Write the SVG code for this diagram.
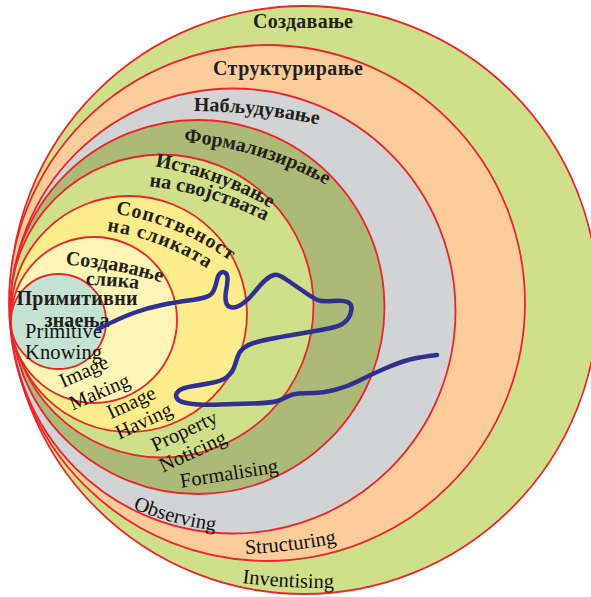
<svg xmlns="http://www.w3.org/2000/svg" width="591" height="597" viewBox="0 0 591 597">
<style>
.ring{stroke:#e8262c;stroke-width:1.8}
.cy{font-family:"Liberation Serif","DejaVu Serif",serif;font-weight:bold;font-size:20px;fill:#231f20}
.en{font-family:"Liberation Serif","DejaVu Serif",serif;font-size:20.5px;fill:#111}
.flow{fill:none;stroke:#2e3192;stroke-width:4.5;stroke-linecap:round;stroke-linejoin:round}
</style>
<defs>
<path id="p_nab" d="M192,111 A600,600 0 0 1 320,125"/>
<path id="p_form" d="M182,142 A350,350 0 0 1 328,186"/>
<path id="p_ist1" d="M153,166 A350,350 0 0 1 272,209"/>
<path id="p_ist2" d="M147,186 A340,340 0 0 1 267,222"/>
<path id="p_sop1" d="M116,214 A260,260 0 0 1 230,261"/>
<path id="p_sop2" d="M107,231 A250,250 0 0 1 208,269"/>
<path id="p_sozd1" d="M67,265 A400,400 0 0 1 160,282"/>
<path id="p_sozd2" d="M86,285 A400,400 0 0 1 138,289"/>
<path id="p_obs" d="M131,508 A350,350 0 0 0 217,531"/>
<path id="p_str" d="M245,554 A600,600 0 0 0 337,543"/>
<path id="p_inv" d="M242,583 A700,700 0 0 0 334,588"/>
</defs>
<rect width="591" height="597" fill="#ffffff"/>
<g id="inventising">
<circle class="ring" cx="304" cy="300" r="294" fill="#d0df89"/>
<text class="cy" x="303" y="28" text-anchor="middle" textLength="100">Создавање</text>
<text class="en" text-anchor="middle"><textPath href="#p_inv" startOffset="50%">Inventising</textPath></text>
</g>
<g id="structuring">
<circle class="ring" cx="267" cy="303" r="258" fill="#fccc9a"/>
<text class="cy" x="288" y="75" text-anchor="middle" textLength="150">Структурирање</text>
<text class="en" text-anchor="middle"><textPath href="#p_str" startOffset="50%">Structuring</textPath></text>
</g>
<g id="observing">
<circle class="ring" cx="233" cy="311" r="222.5" fill="#d1d3d5"/>
<text class="cy" text-anchor="middle"><textPath href="#p_nab" startOffset="50%">Набљудување</textPath></text>
<text class="en" text-anchor="middle"><textPath href="#p_obs" startOffset="50%">Observing</textPath></text>
</g>
<g id="formalising">
<circle class="ring" cx="197.5" cy="307" r="187" fill="#adb976"/>
<text class="cy" text-anchor="middle"><textPath href="#p_form" startOffset="50%">Формализирање</textPath></text>
<text class="en" transform="translate(230,480) rotate(-9)" text-anchor="middle">Formalising</text>
</g>
<g id="property-noticing">
<circle class="ring" cx="162" cy="306" r="151.5" fill="#d0df89"/>
<text class="cy" text-anchor="middle"><textPath href="#p_ist1" startOffset="50%">Истакнување</textPath></text>
<text class="cy" text-anchor="middle"><textPath href="#p_ist2" startOffset="50%">на својствата</textPath></text>
<text class="en" transform="translate(187,437) rotate(-25)" text-anchor="middle">Property</text>
<text class="en" transform="translate(195.5,457.5) rotate(-25)" text-anchor="middle">Noticing</text>
</g>
<g id="image-having">
<circle class="ring" cx="129" cy="314" r="118" fill="#fdec8b"/>
<text class="cy" text-anchor="middle" letter-spacing="1"><textPath href="#p_sop1" startOffset="50%">Сопственост</textPath></text>
<text class="cy" text-anchor="middle" letter-spacing="1"><textPath href="#p_sop2" startOffset="50%">на сликата</textPath></text>
<text class="en" transform="translate(134,408.5) rotate(-25)" text-anchor="middle">Image</text>
<text class="en" transform="translate(146.5,427) rotate(-25)" text-anchor="middle">Having</text>
</g>
<g id="image-making">
<circle class="ring" cx="94" cy="320" r="83" fill="#fff5b6"/>
<text class="cy" text-anchor="middle"><textPath href="#p_sozd1" startOffset="50%">Создавање</textPath></text>
<text class="en" transform="translate(86.5,377.5) rotate(-24)" text-anchor="middle">Image</text>
<text class="en" transform="translate(102,398) rotate(-23)" text-anchor="middle">Making</text>
</g>
<g id="primitive-knowing">
<circle class="ring" cx="58.5" cy="321.5" r="47.5" fill="#c4e3d2"/>
<text class="cy" text-anchor="middle"><textPath href="#p_sozd2" startOffset="50%">слика</textPath></text>
<text class="cy" x="77" y="305" text-anchor="middle" textLength="121">Примитивни</text>
<text class="cy" x="77" y="327" text-anchor="middle" textLength="65">знаења</text>
<text class="en" x="63.5" y="338" text-anchor="middle" textLength="77">Primitive</text>
<text class="en" x="63.5" y="359" text-anchor="middle" textLength="77">Knowing</text>
</g>
<g id="connectors">
<path class="flow" d="M98,329 Q120,318 133.5,313 Q147,308 162,305 Q177,302 188.5,300.5 Q200,299 206,297 Q212,295 214,290 Q216,285 217,280 Q218,275 220.5,273 Q223,271 225.5,273 Q228,275 227.5,280.5 Q227,286 226,291.5 Q225,297 226,302 Q227,307 232,307.5 Q237,308 243.5,303 Q250,298 255,291.5 Q260,285 265,280.5 Q270,276 274,275 Q278,274 285.5,279 Q293,284 303,291 Q313,298 317.5,300 Q322,302 332.5,301 Q343,300 347.5,302 Q352,304 351.5,309 Q351,314 348.5,318 Q346,322 341.5,324.5 Q337,327 323.5,329.5 Q310,332 295,334.5 Q280,337 270,339 Q260,341 253.5,343 Q247,345 243,348.5 Q239,352 237.5,357 Q236,362 234,367.5 Q232,373 227,377 Q222,381 211,383 Q200,385 191,386.5 Q182,388 178.5,391 Q175,394 176.5,397.5 Q178,401 184,402.5 Q190,404 198.5,404.5 Q207,405 220,404.5 Q233,404 251.5,403.5 Q270,403 275.5,401.5 Q281,400 286.5,397 Q292,394 298.5,393.5 Q305,393 313.5,393 Q322,393 334.5,390 Q347,387 358.5,381 Q370,375 385,368.5 Q400,362 410,359.5 Q420,357 437,355"/>
</g>
</svg>
